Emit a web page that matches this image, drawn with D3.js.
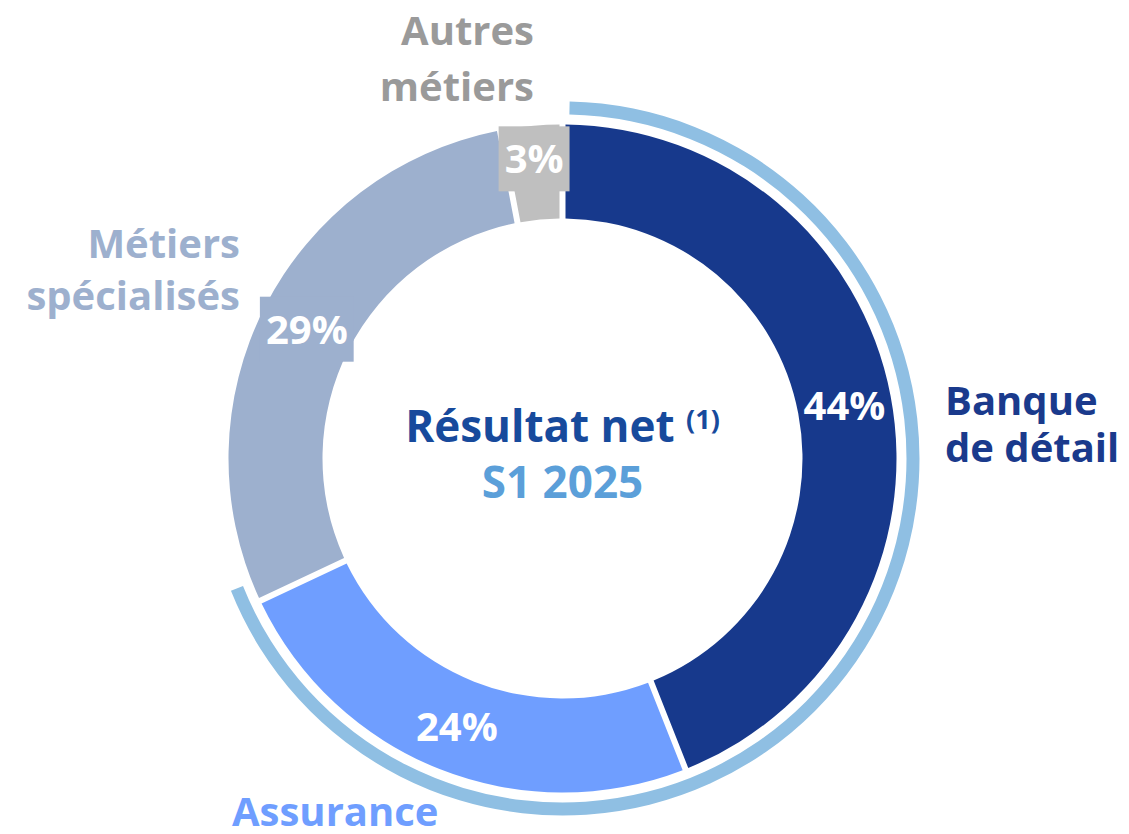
<!DOCTYPE html>
<html><head><meta charset="utf-8">
<script src="https://cdn.jsdelivr.net/npm/d3@7"></script>
<style>body{margin:0;background:#fff}svg{display:block}text{font-family:"Open Sans",sans-serif;font-weight:700}</style>
</head><body>
<svg id="c" width="1129" height="834"></svg>
<script>
const categories = ["Banque de détail", "Assurance", "Métiers spécialisés", "Autres métiers"];
const values = [44, 24, 29, 3];
const sliceColors = ["#17398C", "#6F9EFF", "#9DB0CE", "#BFBFBF"];
const labelColors = ["#1A3A8C", "#6F9EFF", "#9DB0CE", "#9A9A9A"];
const labelLines = [["Banque", "de détail"], ["Assurance"], ["Métiers", "spécialisés"], ["Autres", "métiers"]];
const centerTitle = "Résultat net";
const centerNote = "(1)";
const centerSub = "S1 2025";

const svg = d3.select("#c");
const cx = 562.5, cy = 458.5, R = 334, r = 240;
const g = svg.append("g").attr("transform", `translate(${cx},${cy})`);

const pie = d3.pie().sort(null).value(d => d)(values);
const arc = d3.arc().innerRadius(r).outerRadius(R).padAngle(6 / R).padRadius(R);

// outer highlight ring around first two segments
const ringArc = d3.arc().innerRadius(344).outerRadius(357);
g.append("path")
  .attr("d", ringArc({startAngle: pie[0].startAngle + 0.02, endAngle: pie[1].endAngle + 0.06}))
  .attr("fill", "#8FBFE3");

g.selectAll("path.slice").data(pie).join("path")
  .attr("class", "slice")
  .attr("d", arc)
  .attr("fill", (d, i) => sliceColors[i]);

// percentage labels with background boxes
const labelG = g.selectAll("g.lab").data(pie).join("g").attr("class", "lab");
labelG.each(function(d, i) {
  const frac = (d.endAngle - d.startAngle) / (2 * Math.PI);
  const lr = frac < 0.05 ? R - 32 : (r + R) / 2;
  const a = (d.startAngle + d.endAngle) / 2;
  const x = lr * Math.sin(a), y = -lr * Math.cos(a);
  const sel = d3.select(this);
  const t = sel.append("text")
    .attr("x", x).attr("y", y)
    .attr("text-anchor", "middle").attr("dominant-baseline", "central")
    .attr("font-size", 40).attr("fill", "#fff")
    .text(values[i] + "%");
  const bb = t.node().getBBox();
  if (frac < 0.05 || (a > Math.PI * 1.25 && a < Math.PI * 1.9)) {
    sel.insert("rect", "text")
      .attr("x", bb.x - 6).attr("y", bb.y - 4)
      .attr("width", bb.width + 12).attr("height", bb.height + 10)
      .attr("fill", sliceColors[i]);
  }
});

// category labels
const labPos = [
  {x: 945, y: 415, anchor: "start", dy: 47},
  {x: 232, y: 826, anchor: "start", dy: 48},
  {x: 240, y: 258, anchor: "end", dy: 52},
  {x: 534, y: 45, anchor: "end", dy: 56}
];
categories.forEach((c, i) => {
  const p = labPos[i];
  const t = svg.append("text")
    .attr("x", p.x).attr("y", p.y)
    .attr("text-anchor", p.anchor)
    .attr("font-size", 40)
    .attr("fill", labelColors[i]);
  labelLines[i].forEach((ln, j) => {
    t.append("tspan").attr("x", p.x).attr("y", p.y + j * p.dy).text(ln);
  });
});

// center text
const title = svg.append("text").attr("y", 442).attr("fill", "#174A9C");
title.append("tspan").attr("font-size", 44).text(centerTitle + " ");
title.append("tspan").attr("font-size", 27).attr("dy", -13).text(centerNote);
const tw = title.node().getBBox().width;
title.attr("x", cx - tw / 2);
svg.append("text").attr("x", cx).attr("y", 498).attr("text-anchor", "middle")
  .attr("font-size", 44).attr("fill", "#5B9FD9").text(centerSub);
</script>
</body></html>
